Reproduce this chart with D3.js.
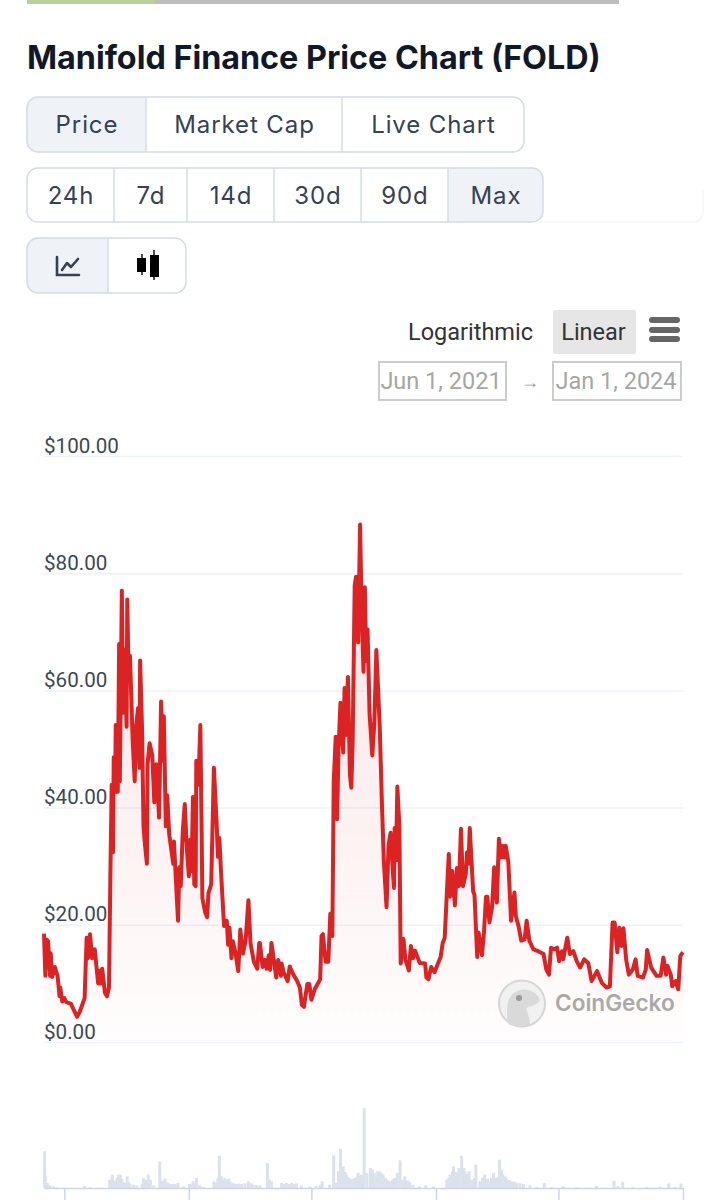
<!DOCTYPE html>
<meta charset="utf-8">
<style>
html, body { margin: 0; background: #fff; }
svg { display: block; }
text { font-family: Inter, "Noto Sans", sans-serif; }
text.rb { font-family: Roboto, sans-serif; }
</style>
<body>
<script src="https://cdn.jsdelivr.net/npm/d3@7/dist/d3.min.js"></script>
<script>

var w = 727;
var h = 1200;

// days since Jun 1, 2021
var priceDays = [0,2,4,6,9,10,12,16,20,23,24,27,30,33,40,45,49,53,60,63,65,68,71,75,80,83,84,86,90,93,96,98,100,102,103,105,106,109,111,112,115,117,120,122,123,125,127,131,134,136,139,141,142,145,147,149,152,153,156,160,163,166,170,173,175,177,180,182,185,191,192,195,198,200,202,205,208,211,214,216,218,220,222,224,225,228,231,234,238,241,243,247,251,255,257,259,262,266,270,272,274,277,279,283,287,290,294,298,302,305,310,315,318,
	319,323,326,329,332,334,336,339,343,346,350,351,354,360,363,368,374,378,381,384,389,392,395,400,408,410,412,416,420,423,426,428,431,433,435,438,442,444,446,449,452,454,456,459,461,464,467,469,472,474,476,478,481,485,488,491,496,499,502,506,509,512,515,517,518,520,522,525,527,531,534,539,542,545,548,555,563,565,568,572,577,582,586,589,592,595,598,600,603,607,610,613,616,619,623,625,627,629,634,636,640,642,647,650,653,655,658,
	662,665,669,672,675,677,680,682,686,690,695,697,701,705,710,713,717,723,730,738,742,746,749,753,758,761,765,767,773,777,782,787,792,798,804,809,817,824,831,836,840,843,847,850,853,856,860,864,870,874,877,885,889,891,897,905,911,915,919,921,926,928,933,937,940,944];
var prices = [18.5,11.3,17.5,17.2,11.3,15.1,11.1,12.8,11.3,7.8,9.3,6.9,7.5,6.8,6.5,5.2,4.3,5.2,7.5,17.8,14.3,18.4,14.3,15.8,10,12.2,10,12.5,8.4,7.8,9.3,28,43.9,32.4,48.6,42.7,54.1,42.7,67.9,44.5,77,56.2,67,53.8,75.5,62,65.9,51.5,44.5,53.8,57,46.8,65.1,52.7,36.8,33.9,30.4,47.4,51,48.9,40.9,47.4,38.3,58.1,48,55.6,36.8,42.1,35.4,30.4,34.2,27.4,20.7,29.8,26.6,36,40.6,33,28.3,34.5,29.2,41.8,26.9,26.6,48,43.9,54.1,24.5,22.2,21.3,25.4,26.9,46.8,37.4,31.6,34.8,28,19.8,20.7,16.6,19.5,14.3,17.2,15.1,12.1,19.2,15.1,17.5,24.2,16.9,13.7,12.5,16.9,
	16.9,12.8,14,12.5,14.8,12.3,16.9,14.5,11,14,11.3,13.4,11.9,10.4,12.9,11.6,10.4,9.3,6.3,6,9.9,9.9,7.2,9,10.7,18.1,18.4,13.7,13.7,21.9,18.1,44.5,52.1,38,49.7,57.9,49.4,60.4,52.4,62.3,45.6,43.4,51.5,77.9,79.4,68.2,88.3,75,63.2,77.6,65,70.4,55.9,48.9,54.4,66.9,53.8,41.5,31,23,33.6,35.7,29.8,26.3,36.5,31,43.6,36.8,13.4,17.6,14,12.2,16.4,14.3,15.6,13.5,13.4,11,10.7,12.8,11.9,13.4,14.5,16.9,17.8,25.1,32.1,24.8,29.2,23.3,29.7,26.6,36.4,26.6,28.6,32.4,30.4,36.5,25.7,25.1,14.5,18.7,14.8,18.7,24.8,24.8,20.4,
	23,29.8,23.8,34.7,31.5,33.5,31.5,33.5,30.7,20.7,25.5,21.5,19.8,17.3,17.5,20.7,17.3,15.8,15.5,15,12.4,11.5,16.1,15.8,16.1,13.8,15.5,14.1,17.8,15,15.5,13.8,12.7,14.1,13.5,10.4,12.1,10.1,9.3,9.5,20.4,20.4,15.3,19.5,16.4,19.4,14.1,11.5,12.4,14.1,11.3,11,12.4,15.7,12.7,11.3,11.3,14.4,11.5,13,11.5,9.5,10.4,9,14.7,15.3];

// no scale in the picture, so volume is in relative units
var volumeDays = [1,2,5,9,14,19,28,60,68,97,99,101,103,105,108,110,113,115,117,120,123,125,127,132,137,145,147,150,152,154,157,162,171,174,176,179,181,183,186,188,191,193,196,198,206,215,218,220,223,225,230,235,251,253,255,257,259,262,264,267,270,273,275,277,280,284,288,292,297,302,306,309,314,319,330,333,336,351,354,358,362,366,370,373,380,393,402,408,411,422,428,432,435,438,442,445,447,450,452,455,459,462,464,467,469,473,477,482,485,488,490,493,496,499,501,504,506,509,512,515,518,522,526,530,533,537,540,545,555,564,575,595,598,600,603,605,608,610,613,617,620,622,625,628,632,636,638,644,648,651,655,658,661,664,668,671,673,676,678,681,683,687,691,695,698,703,708,718,728,739,750,767,787,816,842,848,855,870,890,910,923,932,941];
var volumes = [110,35,15,8,5,2,1,6,2,25,18,40,22,20,30,40,40,28,18,14,35,18,12,10,8,12,30,25,14,40,25,8,80,22,18,28,16,15,10,12,10,12,8,15,5,12,10,20,12,30,8,4,20,12,15,30,97,35,22,30,24,28,20,15,14,12,14,12,14,20,14,10,9,8,75,25,20,15,12,15,12,15,12,14,8,5,6,10,20,10,98,15,50,117,65,48,40,32,25,28,30,32,45,36,40,240,45,60,55,45,32,50,50,44,40,30,25,22,20,26,30,45,83,25,35,22,18,10,5,8,5,25,32,40,50,65,48,45,60,97,60,50,42,50,25,30,70,20,30,40,28,20,30,45,30,34,85,55,40,35,30,24,20,18,15,14,12,8,3,15,3,5,2,6,22,6,18,2,3,4,14,3,14];

var yTicks = [0,20,40,60,80,100];
var navTicks = ["2021-07-01","2022-01-01","2022-07-01","2023-01-01","2023-07-01","2024-01-01"];
var startDate = new Date(Date.UTC(2021,5,1));
var endDate = new Date(Date.UTC(2024,0,1));

var rangeTabs = [["Price",27,146],["Market Cap",146,342],["Live Chart",342,524]];
var periodTabs = [["24h",27,114],["7d",114,187],["14d",187,274],["30d",274,361],["90d",361,448],["Max",448,543]];
var typeTabs = [[" ",27,108],["  ",108,186]];

function toDate(d) { return d3.utcDay.offset(startDate, d); }

var svg = d3.select("body").append("svg")
	.attr("width", w)
	.attr("height", h);

var x = d3.scaleUtc().domain([startDate, endDate]).range([44, 683]);
var y = d3.scaleLinear().domain([0,100]).range([1042, 456]);
var yVol = d3.scaleLinear().domain([0,240]).range([1188, 1108]);

// --- header stuff
svg.append("rect").attr("x",27).attr("y",0).attr("width",592).attr("height",4).attr("fill","#bdbdbd");
svg.append("rect").attr("x",27).attr("y",0).attr("width",128).attr("height",4).attr("fill","#b9cf9c");

svg.append("text").attr("x",27).attr("y",69)
	.attr("font-size",32.3).attr("font-weight",700).attr("fill","#111827")
	.text("Manifold Finance Price Chart (FOLD)");

// faint card behind the period buttons
svg.append("path").attr("d","M540,222H692Q703,222 703,211V190").attr("fill","none").attr("stroke","#f5f6f8").attr("stroke-width",1.5);

function tabGroup(tabs, top, bottom, active) {
	var x0 = tabs[0][1], x1 = tabs[tabs.length-1][2];
	var id = "clip" + top;
	svg.append("clipPath").attr("id",id).append("rect")
		.attr("x",x0).attr("y",top).attr("width",x1-x0).attr("height",bottom-top).attr("rx",11);
	var g = svg.append("g");
	g.selectAll("rect").data(tabs).enter().append("rect")
		.attr("clip-path","url(#"+id+")")
		.attr("x",function(d){return d[1];})
		.attr("y",top)
		.attr("width",function(d){return d[2]-d[1];})
		.attr("height",bottom-top)
		.attr("fill",function(d){return d[0]===active ? "#eff2f6" : "#fff";});
	g.selectAll("line").data(tabs.slice(1)).enter().append("line")
		.attr("x1",function(d){return d[1];}).attr("x2",function(d){return d[1];})
		.attr("y1",top).attr("y2",bottom)
		.attr("stroke","#d5dce5").attr("stroke-width",1.5);
	g.selectAll("text").data(tabs).enter().append("text")
		.attr("x",function(d){return (d[1]+d[2])/2+0.5;})
		.attr("y",(top+bottom)/2+8.5)
		.attr("text-anchor","middle")
		.attr("font-size",24).attr("letter-spacing",0.9).attr("fill","#364153")
		.text(function(d){return d[0];});
	svg.append("rect").attr("x",x0).attr("y",top).attr("width",x1-x0).attr("height",bottom-top).attr("rx",11)
		.attr("fill","none").attr("stroke","#d5dce5").attr("stroke-width",1.5);
}
tabGroup(rangeTabs, 97, 152, "Price");
tabGroup(periodTabs, 168, 222, "Max");
tabGroup(typeTabs, 238, 293, " ");

// chart type icons
svg.append("path").attr("d","M57,257V275H79").attr("fill","none").attr("stroke","#364153").attr("stroke-width",2.6).attr("stroke-linecap","round");
svg.append("path").attr("d","M62,270L67,263L71,267L78,259").attr("fill","none").attr("stroke","#364153").attr("stroke-width",2.6).attr("stroke-linecap","round").attr("stroke-linejoin","round");
svg.append("path").attr("d","M142,254V275M154,250V280").attr("stroke","#111").attr("stroke-width",1.5);
svg.append("rect").attr("x",137).attr("y",258).attr("width",9).attr("height",14).attr("fill","#000");
svg.append("rect").attr("x",150).attr("y",255).attr("width",9).attr("height",22).attr("fill","#000");

// scale buttons and date range
svg.append("text").attr("class","rb").attr("x",408).attr("y",340).attr("font-size",23.5).attr("fill","#333").text("Logarithmic");
svg.append("rect").attr("x",553).attr("y",310).attr("width",83).attr("height",44).attr("rx",2).attr("fill","#e6e6e6");
svg.append("text").attr("class","rb").attr("x",593.5).attr("y",340).attr("text-anchor","middle").attr("font-size",23.5).attr("fill","#333").text("Linear");
svg.selectAll("rect.burger").data([317,327,336]).enter().append("rect")
	.attr("class","burger").attr("x",649).attr("y",function(d){return d;})
	.attr("width",31).attr("height",6).attr("rx",3).attr("fill","#666");

svg.selectAll("rect.datebox").data([[379,127],[553,128]]).enter().append("rect")
	.attr("class","datebox")
	.attr("x",function(d){return d[0];}).attr("y",362)
	.attr("width",function(d){return d[1];}).attr("height",38)
	.attr("fill","#fff").attr("stroke","#ccc").attr("stroke-width",2);
svg.append("text").attr("class","rb").attr("x",441).attr("y",389).attr("text-anchor","middle").attr("font-size",23.5).attr("fill","#a6a6a6").text("Jun 1, 2021");
svg.append("text").attr("class","rb").attr("x",616).attr("y",389).attr("text-anchor","middle").attr("font-size",23.5).attr("fill","#a6a6a6").text("Jan 1, 2024");
svg.append("text").attr("class","rb").attr("x",530).attr("y",388).attr("text-anchor","middle").attr("font-size",18).attr("fill","#999").text("→");

// --- main chart
var grad = svg.append("defs").append("linearGradient")
	.attr("id","fade").attr("gradientUnits","userSpaceOnUse")
	.attr("x1",0).attr("x2",0).attr("y1",y(88)).attr("y2",y(0));
grad.append("stop").attr("offset",0).attr("stop-color","#dc2626").attr("stop-opacity",0.13);
grad.append("stop").attr("offset",1).attr("stop-color","#dc2626").attr("stop-opacity",0.01);

var grid = d3.axisLeft(y).tickValues(yTicks).tickSize(-(683-44)).tickFormat("");
var gridG = svg.append("g").attr("transform","translate(44,0)").call(grid);
gridG.select(".domain").remove();
gridG.selectAll("line").attr("stroke","#eef2f9").attr("stroke-width",1.5);

var points = priceDays.map(function(d,i){ return [toDate(d), prices[i]]; });

var area = d3.area().x(function(d){return x(d[0]);}).y0(y(0)).y1(function(d){return y(d[1]);});
var line = d3.line().x(function(d){return x(d[0]);}).y(function(d){return y(d[1]);});

svg.append("path").datum(points).attr("d",area).attr("fill","url(#fade)");

// watermark sits on top of the fill, under the line
var logo = svg.append("g");
logo.append("circle").attr("cx",522).attr("cy",1003.5).attr("r",23).attr("fill","#f1f1f1").attr("stroke","#d6d6d6").attr("stroke-width",2);
logo.append("path").attr("d","M508,1024C506,1008 506,994 520,990C530,988 538,994 540,1000C536,1006 530,1006 526,1008C528,1014 530,1020 530,1025Q518,1029 508,1024Z").attr("fill","#d9d9d9");
logo.append("circle").attr("cx",519).attr("cy",998).attr("r",3).attr("fill","#999");
logo.append("text").attr("x",555).attr("y",1011).attr("font-size",22.6).attr("font-weight",600).attr("fill","#a9a9a9").text("CoinGecko");

svg.append("path").datum(points).attr("d",line)
	.attr("fill","none").attr("stroke","#dc2323").attr("stroke-width",4).attr("stroke-linejoin","round");

svg.selectAll("text.ylab").data(yTicks).enter().append("text")
	.attr("class","ylab rb")
	.attr("x",44).attr("y",function(d){return y(d)-3.5;})
	.attr("font-size",20.6).attr("fill","#3d4756")
	.text(function(d){return "$"+d.toFixed(2);});

// --- navigator at the bottom
svg.selectAll("rect.vol").data(volumes).enter().append("rect")
	.attr("class","vol")
	.attr("x",function(d,i){return x(toDate(volumeDays[i]))-1.5;})
	.attr("y",function(d){return yVol(d);})
	.attr("width",3)
	.attr("height",function(d){return yVol(0)-yVol(d);})
	.attr("fill","#dbe2ec");

var nav = d3.axisBottom(x)
	.tickValues(navTicks.map(function(s){return new Date(s);}))
	.tickSize(12).tickFormat("").tickSizeOuter(0);
var navG = svg.append("g").attr("transform","translate(0,1188)").call(nav);
navG.select(".domain").attr("stroke","#ccd6eb").attr("stroke-width",1.5);
navG.selectAll("line").attr("stroke","#ccd6eb").attr("stroke-width",1.5);

</script>
</body>
</html>
